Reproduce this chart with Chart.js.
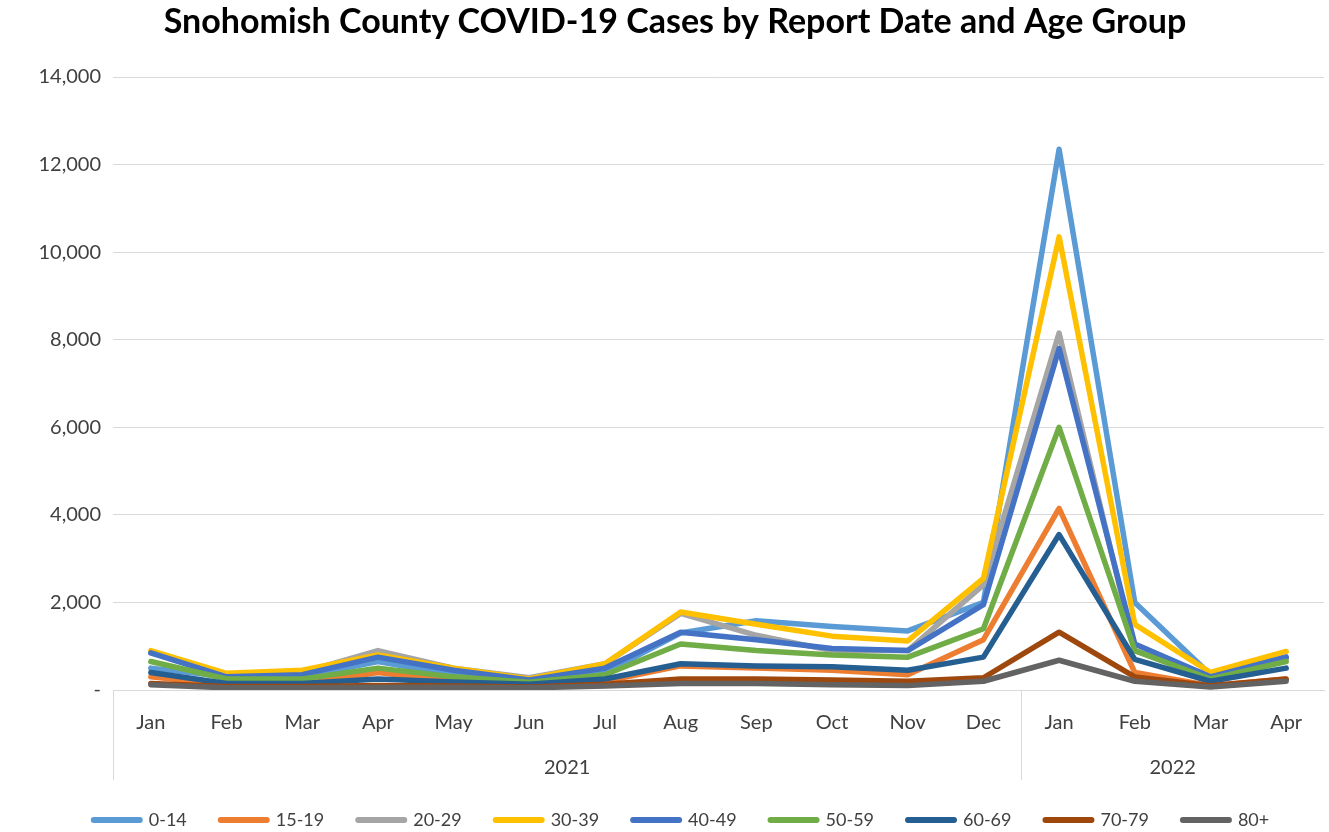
<!DOCTYPE html>
<html>
<head>
<meta charset="utf-8">
<script src="https://cdn.jsdelivr.net/npm/chart.js@4/dist/chart.umd.min.js"></script>
<style>
html,body{margin:0;padding:0;background:#fff;}
#wrap{width:1329px;height:832px;position:relative;}
</style>
</head>
<body>
<div id="wrap"><canvas id="c" width="1329" height="832"></canvas></div>
<script>
const months = ['Jan','Feb','Mar','Apr','May','Jun','Jul','Aug','Sep','Oct','Nov','Dec','Jan','Feb','Mar','Apr'];
const years = ['2021','2022'];
const yearSpans = [12, 4];
const yTicks = [0,2000,4000,6000,8000,10000,12000,14000];
const seriesNames = ['0-14','15-19','20-29','30-39','40-49','50-59','60-69','70-79','80+'];
const colors = ['#5B9BD5','#ED7D31','#A5A5A5','#FFC000','#4472C4','#70AD47','#255E91','#9E480E','#636363'];
const titleText = 'Snohomish County COVID-19 Cases by Report Date and Age Group';

const age0_14  = [500,300,300,650,350,200,400,1300,1580,1450,1350,2000,12350,2000,350,750];
const age15_19 = [300,120,130,400,200,100,200,550,500,450,350,1150,4150,400,100,250];
const age20_29 = [850,350,400,900,500,280,600,1750,1250,900,900,2400,8150,900,300,700];
const age30_39 = [900,380,450,800,500,250,600,1780,1500,1230,1120,2550,10350,1500,400,880];
const age40_49 = [850,300,350,750,450,230,500,1320,1150,950,900,1950,7800,1050,300,750];
const age50_59 = [650,250,250,500,300,180,350,1050,900,800,750,1400,6000,900,250,650];
const age60_69 = [400,150,150,250,180,130,250,600,550,530,450,750,3550,700,200,500];
const age70_79 = [150,80,80,100,90,70,130,250,250,230,200,280,1320,300,100,250];
const age80p   = [120,50,50,60,60,50,90,150,150,120,100,200,680,200,70,200];

const allSeries = [age0_14,age15_19,age20_29,age30_39,age40_49,age50_59,age60_69,age70_79,age80p];

const FONT = 'Lato, "Open Sans", sans-serif';
const TEXT = '#404040';

const datasets = allSeries.map((d,i)=>({
  label: seriesNames[i],
  data: d,
  borderColor: colors[i],
  backgroundColor: colors[i],
  borderWidth: 5.5,
  pointRadius: 0,
  tension: 0,
  borderJoinStyle: 'round',
  borderCapStyle: 'round',
  order: allSeries.length - i
}));

const decor = {
  id: 'decor',
  afterDraw(chart){
    const x = chart.scales.x;
    const ctx = chart.ctx;
    const top = x.top;
    const bottom = x.top + 90;
    ctx.save();
    // title
    ctx.fillStyle = '#000';
    ctx.font = 'bold 34px ' + FONT;
    ctx.textAlign = 'center';
    ctx.textBaseline = 'middle';
    ctx.fillText(titleText, 675, 22);

    // multi-level axis separators
    ctx.strokeStyle = '#d9d9d9';
    ctx.lineWidth = 1;
    let idx = 0;
    const bounds = [x.left];
    for (let s=0;s<yearSpans.length;s++){
      idx += yearSpans[s];
      if (idx < months.length){
        bounds.push((x.getPixelForValue(idx-1)+x.getPixelForValue(idx))/2);
      } else {
        bounds.push(x.right);
      }
    }
    for (let b=0;b<bounds.length-1;b++){
      const px = Math.round(bounds[b])+0.5;
      ctx.beginPath();
      ctx.moveTo(px, top);
      ctx.lineTo(px, bottom);
      ctx.stroke();
    }
    ctx.fillStyle = TEXT;
    ctx.font = '20px ' + FONT;
    for (let s=0;s<years.length;s++){
      ctx.fillText(years[s], (bounds[s]+bounds[s+1])/2, top + 78);
    }

    // legend
    const boxW = 52, boxH = 6, gapText = 6, gapItem = 31;
    ctx.font = '18px ' + FONT;
    ctx.textAlign = 'left';
    const widths = chart.data.datasets.map(ds => boxW + gapText + ctx.measureText(ds.label).width);
    const total = widths.reduce((a,b)=>a+b,0) + gapItem*(widths.length-1);
    let lx = 680 - total/2;
    const ly = 820;
    chart.data.datasets.forEach((ds,i)=>{
      ctx.strokeStyle = ds.borderColor;
      ctx.lineWidth = boxH;
      ctx.lineCap = 'round';
      ctx.beginPath();
      ctx.moveTo(lx + boxH/2, ly);
      ctx.lineTo(lx + boxW - boxH/2, ly);
      ctx.stroke();
      ctx.fillStyle = TEXT;
      ctx.fillText(ds.label, lx + boxW + gapText, ly);
      lx += widths[i] + gapItem;
    });
    ctx.restore();
  }
};

new Chart(document.getElementById('c'), {
  type: 'line',
  data: { labels: months, datasets },
  plugins: [decor],
  options: {
    responsive: false,
    animation: false,
    layout: { padding: { left: 0, right: 5, top: 77, bottom: 48 } },
    plugins: {
      title: { display: false },
      legend: { display: false },
      tooltip: { enabled: false }
    },
    scales: {
      x: {
        offset: true,
        grid: { display: false, drawTicks: false },
        border: { color: '#d9d9d9', width: 1 },
        ticks: { color: TEXT, font: { family: FONT, size: 20 }, padding: 21, maxRotation: 0, autoSkip: false },
        afterFit(s){ s.height = 94; }
      },
      y: {
        min: 0, max: 14000,
        afterBuildTicks(s){ s.ticks = yTicks.map(v=>({value:v})); },
        grid: { color: '#d9d9d9', lineWidth: 1, drawTicks: false },
        border: { display: false },
        ticks: {
          color: TEXT,
          font: { family: FONT, size: 20 },
          padding: 12,
          callback(v){ return v === 0 ? '-' : v.toLocaleString('en-US'); }
        },
        afterFit(s){ s.width = 113; }
      }
    }
  }
});
</script>
</body>
</html>
